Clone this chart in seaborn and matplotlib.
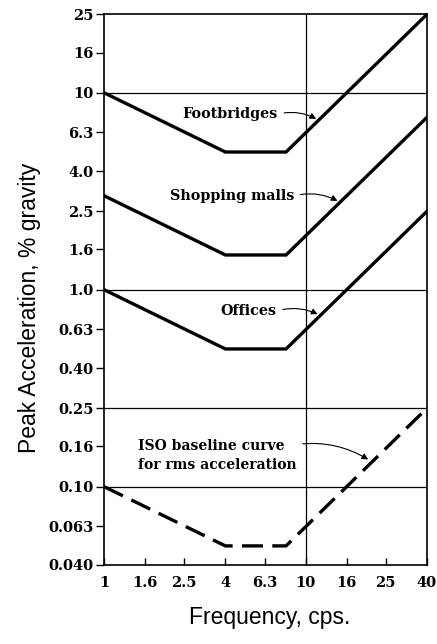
import numpy as np
import pandas as pd
import seaborn as sns
import matplotlib
matplotlib.use("Agg")
import matplotlib.pyplot as plt

# Corner points of each criterion curve (frequency in cps, acceleration in % g)
freq = [1, 4, 8, 40]
footbridges = [10.0, 5.0, 5.0, 25.0]
shopping_malls = [3.0, 1.5, 1.5, 7.5]
offices = [1.0, 0.5, 0.5, 2.5]
iso_baseline = [0.1, 0.05, 0.05, 0.25]

x_ticks = [1, 1.6, 2.5, 4, 6.3, 10, 16, 25, 40]
x_tick_labels = ["1", "1.6", "2.5", "4", "6.3", "10", "16", "25", "40"]
y_ticks = [0.04, 0.063, 0.10, 0.16, 0.25, 0.40, 0.63, 1.0, 1.6, 2.5, 4.0, 6.3, 10, 16, 25]
y_tick_labels = ["0.040", "0.063", "0.10", "0.16", "0.25", "0.40", "0.63", "1.0",
                 "1.6", "2.5", "4.0", "6.3", "10", "16", "25"]
h_lines = [10, 1.0, 0.25, 0.1]
v_lines = [10]

df = pd.DataFrame({
    "freq": freq * 4,
    "acc": footbridges + shopping_malls + offices + iso_baseline,
    "curve": ["Footbridges"] * 4 + ["Shopping malls"] * 4 + ["Offices"] * 4 + ["ISO"] * 4,
})

sns.set_style("ticks")
plt.rcParams['font.family'] = ['DejaVu Serif']
plt.rcParams['text.color'] = 'black'
plt.rcParams['axes.labelcolor'] = 'black'

fig = plt.figure(figsize=(4.37, 6.44), dpi=100)
ax = fig.add_axes([0.238, 0.1227, 0.739, 0.855])

for name in ["Footbridges", "Shopping malls", "Offices"]:
    sub = df[df.curve == name]
    sns.lineplot(data=sub, x="freq", y="acc", color="black", lw=2.4, ax=ax,
                 solid_joinstyle="miter")
sub = df[df.curve == "ISO"]
sns.lineplot(data=sub, x="freq", y="acc", color="black", lw=2.4, ax=ax,
             linestyle=(0, (6.3, 2.8)))

ax.set_xscale("log")
ax.set_yscale("log")
ax.set_xlim(1, 40)
ax.set_ylim(0.04, 25)

for h in h_lines:
    ax.axhline(h, color="black", lw=0.9)
for v in v_lines:
    ax.axvline(v, color="black", lw=0.9)

ax.set_xticks(x_ticks)
ax.set_xticklabels(x_tick_labels)
ax.set_yticks(y_ticks)
ax.set_yticklabels(y_tick_labels)
ax.minorticks_off()
ax.tick_params(axis="both", labelsize=10.5, width=1, length=6, colors="black")
ax.tick_params(axis="x", direction="in", length=5, pad=8)
ax.tick_params(axis="y", pad=1.5)
for lab in ax.get_xticklabels() + ax.get_yticklabels():
    lab.set_fontweight("bold")

for s in ax.spines.values():
    s.set_color("black")
    s.set_linewidth(1.2)

sans = ["Liberation Sans", "DejaVu Sans"]
ax.set_xlabel("Frequency, cps.", fontsize=16.5, family=sans)
ax.set_ylabel("Peak Acceleration, % gravity", fontsize=16.5, family=sans)
ax.xaxis.set_label_coords(0.514, -0.075)
ax.yaxis.set_label_coords(-0.195, 0.467)

# Callouts with small leader arrows
def leader():
    return dict(arrowstyle="-|>", color="black", lw=0.8, mutation_scale=9,
                connectionstyle="arc3,rad=-0.2", relpos=(1.0, 0.5))

ann_kw = dict(fontsize=10.3, fontweight="bold", ha="right", va="center")
ax.annotate("Footbridges", xy=(11.6, 7.25), xytext=(7.3, 7.8), arrowprops=leader(), **ann_kw)
ax.annotate("Shopping malls", xy=(14.8, 2.78), xytext=(8.8, 3.0), arrowprops=leader(), **ann_kw)
ax.annotate("Offices", xy=(11.8, 0.74), xytext=(7.2, 0.78), arrowprops=leader(), **ann_kw)
iso_arrow = leader()
iso_arrow["relpos"] = (0.95, 0.8)
ax.annotate("ISO baseline curve\nfor rms acceleration", xy=(21.0, 0.135), xytext=(1.475, 0.174),
            fontsize=10, fontweight="bold", ha="left", va="top", linespacing=1.45,
            arrowprops=iso_arrow)

fig.savefig("out.png", dpi=100)
